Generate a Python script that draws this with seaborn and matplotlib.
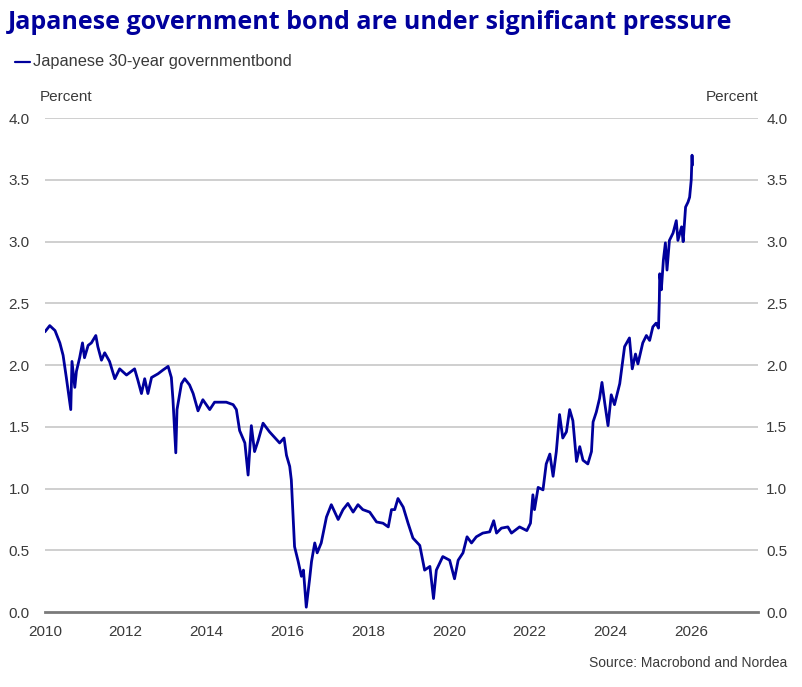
import numpy as np
import pandas as pd
import matplotlib.pyplot as plt
import seaborn as sns

# Japanese 30-year government bond yield
years = [
    2010.00, 2010.12, 2010.25, 2010.37, 2010.45, 2010.53, 2010.64, 2010.67, 2010.74, 2010.78,
    2010.86, 2010.93, 2010.98, 2011.07, 2011.15, 2011.26, 2011.31, 2011.40, 2011.48, 2011.60,
    2011.73, 2011.85, 2012.02, 2012.22, 2012.30, 2012.39, 2012.47, 2012.55, 2012.64, 2012.80,
    2012.92, 2013.05, 2013.13, 2013.17, 2013.24, 2013.27, 2013.38, 2013.46, 2013.58, 2013.67,
    2013.79, 2013.91, 2014.08, 2014.20, 2014.49, 2014.66, 2014.74, 2014.82, 2014.95, 2015.03,
    2015.11, 2015.19, 2015.28, 2015.40, 2015.56, 2015.81, 2015.92, 2015.98, 2016.06, 2016.10,
    2016.14, 2016.18, 2016.27, 2016.35, 2016.40, 2016.47, 2016.55, 2016.60, 2016.68, 2016.74,
    2016.84, 2016.97, 2017.09, 2017.26, 2017.38, 2017.50, 2017.63, 2017.75, 2017.87, 2018.04,
    2018.21, 2018.37, 2018.50, 2018.58, 2018.66, 2018.74, 2018.87, 2018.99, 2019.11, 2019.28,
    2019.40, 2019.53, 2019.62, 2019.69, 2019.85, 2020.02, 2020.14, 2020.23, 2020.35, 2020.45,
    2020.56, 2020.68, 2020.84, 2021.01, 2021.11, 2021.18, 2021.30, 2021.46, 2021.55, 2021.75,
    2021.93, 2022.02, 2022.08, 2022.12, 2022.21, 2022.33, 2022.41, 2022.50, 2022.58, 2022.66,
    2022.74, 2022.82, 2022.91, 2022.99, 2023.07, 2023.16, 2023.24, 2023.32, 2023.44, 2023.53,
    2023.57, 2023.65, 2023.73, 2023.79, 2023.86, 2023.94, 2024.02, 2024.10, 2024.23, 2024.35,
    2024.47, 2024.54, 2024.62, 2024.68, 2024.80, 2024.89, 2024.97, 2025.05, 2025.13, 2025.19,
    2025.21, 2025.22, 2025.26, 2025.31, 2025.36, 2025.40, 2025.46, 2025.55, 2025.63, 2025.67,
    2025.76, 2025.80, 2025.86, 2025.92, 2025.96, 2026.00, 2026.02, 2026.03,
]
yields = [
    2.27, 2.32, 2.28, 2.18, 2.08, 1.90, 1.64, 2.03, 1.82, 1.95,
    2.06, 2.18, 2.06, 2.16, 2.18, 2.24, 2.15, 2.04, 2.10, 2.03,
    1.89, 1.97, 1.92, 1.97, 1.88, 1.77, 1.89, 1.77, 1.90, 1.93,
    1.96, 1.99, 1.90, 1.72, 1.29, 1.64, 1.85, 1.89, 1.84, 1.77,
    1.63, 1.72, 1.64, 1.70, 1.70, 1.68, 1.64, 1.47, 1.37, 1.11,
    1.51, 1.30, 1.39, 1.53, 1.46, 1.37, 1.41, 1.27, 1.18, 1.07,
    0.80, 0.53, 0.41, 0.29, 0.34, 0.04, 0.26, 0.41, 0.56, 0.48,
    0.56, 0.77, 0.87, 0.75, 0.83, 0.88, 0.81, 0.87, 0.83, 0.81,
    0.73, 0.72, 0.69, 0.83, 0.83, 0.92, 0.85, 0.72, 0.60, 0.54,
    0.34, 0.37, 0.11, 0.34, 0.45, 0.42, 0.27, 0.42, 0.48, 0.61,
    0.56, 0.61, 0.64, 0.65, 0.74, 0.64, 0.68, 0.69, 0.64, 0.69,
    0.66, 0.72, 0.95, 0.83, 1.01, 0.99, 1.20, 1.28, 1.10, 1.30,
    1.60, 1.41, 1.46, 1.64, 1.55, 1.22, 1.34, 1.23, 1.20, 1.30,
    1.54, 1.62, 1.73, 1.86, 1.69, 1.51, 1.76, 1.68, 1.85, 2.15,
    2.22, 1.97, 2.09, 2.01, 2.18, 2.24, 2.20, 2.31, 2.34, 2.30,
    2.53, 2.74, 2.61, 2.85, 2.99, 2.77, 3.01, 3.07, 3.17, 3.01,
    3.12, 3.00, 3.28, 3.32, 3.36, 3.50, 3.70, 3.62,
]
x_ticks = [2010, 2012, 2014, 2016, 2018, 2020, 2022, 2024, 2026]
y_ticks = [0.0, 0.5, 1.0, 1.5, 2.0, 2.5, 3.0, 3.5, 4.0]
y_labels = [f"{v:.1f}" for v in y_ticks]

df = pd.DataFrame({"year": years, "yield": yields})

BLUE = "#00009C"
TEXT = "#3a3a3a"

sns.set_style("white")
plt.rcParams["font.family"] = ["Liberation Sans", "DejaVu Sans"]

fig = plt.figure(figsize=(8.02, 6.87), dpi=100)
ax = fig.add_axes([0.056, 0.109, 0.889, 0.719])

for v in y_ticks[1:]:
    ax.axhline(v, color="#cfcfcf", linewidth=1.4, zorder=0)

sns.lineplot(data=df, x="year", y="yield", color=BLUE, linewidth=2.0, ax=ax)

ax.set_xlim(2010, 2027.65)
ax.set_ylim(0, 4.0)
ax.set_xticks(x_ticks)
ax.set_yticks(y_ticks)
ax.set_yticklabels(y_labels)
ax.set_xlabel("")
ax.set_ylabel("")

for s in ["top", "right", "left"]:
    ax.spines[s].set_visible(False)
ax.spines["bottom"].set_color("#7a7a7a")
ax.spines["bottom"].set_linewidth(2)

ax.tick_params(axis="x", direction="out", length=5, width=1.2, color="#7a7a7a",
               labelsize=11, labelcolor=TEXT, pad=4)
ax.tick_params(axis="y", left=False, length=0, labelsize=11, labelcolor=TEXT, pad=11)

# right-hand axis carries the same scale
ax_r = ax.twinx()
ax_r.set_ylim(0, 4.0)
ax_r.set_yticks(y_ticks)
ax_r.set_yticklabels(y_labels)
for s in ax_r.spines.values():
    s.set_visible(False)
ax_r.tick_params(axis="y", right=False, length=0, labelsize=11, labelcolor=TEXT, pad=6)

fig.text(0.010, 0.967, "Japanese government bond are under significant pressure",
         fontsize=18, fontweight="bold", color=BLUE, va="center", ha="left",
         family=["Open Sans", "DejaVu Sans"])

fig.lines.append(plt.Line2D([0.019, 0.038], [0.910, 0.910], transform=fig.transFigure,
                            color=BLUE, linewidth=1.6))
fig.text(0.041, 0.910, "Japanese 30-year governmentbond", fontsize=11.8, color=TEXT,
         va="center", ha="left")

fig.text(0.050, 0.859, "Percent", fontsize=11, color=TEXT, va="center", ha="left")
fig.text(0.945, 0.859, "Percent", fontsize=11, color=TEXT, va="center", ha="right")

fig.text(0.981, 0.035, "Source: Macrobond and Nordea", fontsize=10, color=TEXT,
         va="center", ha="right")

plt.savefig("out.png", dpi=100)
plt.close()
